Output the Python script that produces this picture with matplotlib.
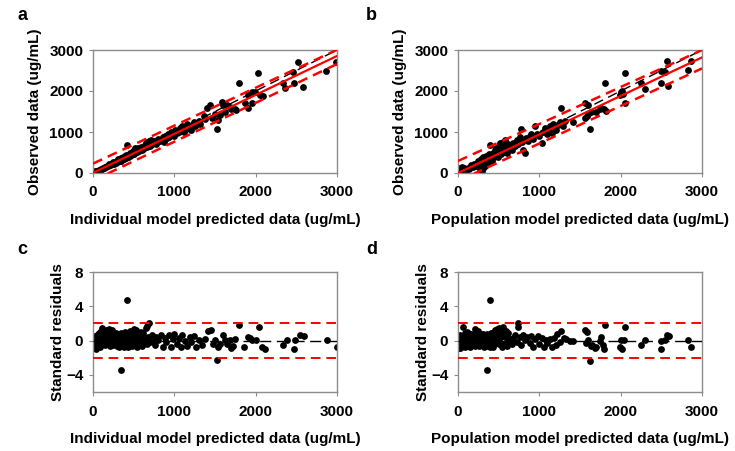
import matplotlib
matplotlib.use("Agg")
import matplotlib.pyplot as plt
import numpy as np

plt.rcParams['font.family'] = ['Liberation Sans', 'DejaVu Sans']
plt.rcParams['font.weight'] = 'bold'

# ---------------- data ----------------
# Panel a: individual predicted vs observed
a_pred = [5, 15, 25, 30, 40, 50, 60, 70, 80, 95,
          110, 120, 135, 150, 160, 175, 190, 200, 215, 230,
          240, 255, 270, 280, 295, 300, 310, 320, 335, 340,
          350, 360, 370, 380, 390, 400, 410, 420, 425, 440,
          450, 460, 470, 480, 490, 500, 510, 520, 530, 540,
          550, 560, 575, 590, 600, 620, 640, 650, 660, 670,
          680, 690, 700, 710, 720, 740, 750, 760, 780, 800,
          820, 840, 860, 870, 880, 900, 920, 940, 960, 980,
          1000, 1010, 1030, 1050, 1070, 1090, 1100, 1120, 1140, 1160,
          1180, 1200, 1220, 1240, 1260, 1280, 1300, 1320, 1360, 1380,
          1400, 1440, 1460, 1500, 1530, 1540, 1560, 1580, 1600, 1620,
          1650, 1680, 1700, 1740, 1760, 1800, 1870, 1900, 1906, 1955,
          1960, 1990, 2030, 2054, 2090, 2337, 2362, 2460, 2472, 2520,
          2583, 2866, 2990,
          60, 130, 210, 260, 330, 365, 430, 455, 505, 545,
          580, 610, 630, 695, 730, 790, 850, 910, 1060, 1150]
a_obs = [10, 20, 15, 40, 30, 60, 45, 80, 70, 90,
         100, 130, 110, 150, 140, 180, 170, 210, 190, 230,
         260, 220, 280, 250, 300, 270, 330, 290, 320, 360,
         300, 350, 390, 340, 410, 370, 430, 685, 400, 450,
         420, 480, 440, 520, 460, 550, 490, 600, 520, 580,
         620, 540, 600, 640, 570, 610, 680, 720, 640, 760,
         700, 780, 680, 800, 740, 720, 780, 760, 700, 820,
         780, 800, 880, 760, 900, 860, 940, 880, 1000, 960,
         900, 1040, 980, 1000, 1100, 1050, 1150, 1000, 1080, 1200,
         1120, 1050, 1180, 1250, 1150, 1200, 1260, 1200, 1400, 1320,
         1580, 1660, 1350, 1450, 1080, 1300, 1420, 1740, 1650, 1500,
         1650, 1600, 1560, 1550, 1530, 2200, 1707, 1900, 1585, 1975,
         1700, 1975, 2440, 1900, 1880, 2195, 2073, 2463, 2195, 2707,
         2098, 2488, 2707,
         40, 120, 190, 240, 300, 330, 400, 430, 470, 510,
         550, 580, 600, 660, 700, 750, 800, 860, 1000, 1090]

# Panel b: population predicted vs observed
b_pred = [5, 15, 25, 35, 45, 55, 65, 75, 85, 100,
          120, 140, 160, 180, 200, 220, 240, 260, 270, 280,
          290, 300, 310, 320, 330, 340, 350, 360, 370, 380,
          390, 398, 405, 415, 425, 440, 450, 460, 470, 480,
          490, 500, 510, 520, 530, 540, 550, 560, 570, 580,
          590, 600, 620, 640, 660, 680, 700, 720, 740, 760,
          780, 790, 800, 820, 840, 860, 880, 900, 920, 950,
          970, 1000, 1030, 1050, 1070, 1090, 1110, 1130, 1150, 1170,
          1190, 1210, 1230, 1250, 1270, 1290, 1310, 1420, 1560, 1560,
          1580, 1600, 1600, 1620, 1640, 1700, 1740, 1760, 1800, 1820,
          1810, 1990, 2000, 2020, 2030, 2050, 2050, 2250, 2300, 2490,
          2500, 2540, 2570, 2580, 2830, 2870]
b_obs = [20, 60, 130, 10, 100, 150, 40, 120, 70, 50,
         130, 90, 200, 150, 230, 170, 300, 210, 100, 330,
         60, 260, 380, 150, 300, 420, 200, 350, 250, 460,
         330, 680, 420, 300, 500, 380, 560, 440, 620, 500,
         400, 650, 550, 720, 470, 600, 760, 520, 680, 800,
         600, 480, 700, 620, 560, 740, 660, 800, 700, 880,
         1070, 760, 550, 500, 860, 780, 900, 950, 820, 1150,
         960, 900, 720, 1000, 1100, 950, 1050, 1150, 980, 1200,
         1100, 1050, 1180, 1240, 1580, 1150, 1260, 1250, 1700, 1350,
         1400, 1650, 1450, 1080, 1500, 1500, 1550, 1580, 1550, 1520,
         2200, 1900, 1970, 1990, 1930, 2440, 1700, 2200, 2060, 2190,
         2490, 2470, 2740, 2110, 2510, 2720]

# Panel c: individual predicted vs standard residuals
c_pred = [5, 10, 15, 20, 25, 30, 35, 40, 50, 60,
          70, 80, 90, 100, 110, 120, 130, 140, 150, 160,
          175, 190, 200, 210, 220, 230, 240, 250, 260, 270,
          280, 290, 300, 310, 320, 330, 340, 350, 360, 370,
          380, 390, 400, 410, 420, 430, 440, 450, 460, 470,
          480, 490, 500, 510, 520, 530, 540, 550, 560, 575,
          590, 600, 620, 640, 650, 660, 670, 680, 690, 700,
          720, 740, 760, 780, 800, 830, 860, 880, 900, 930,
          960, 980, 1000, 1030, 1060, 1080, 1100, 1130, 1160, 1190,
          1210, 1240, 1270, 1300, 1340, 1380, 1420, 1455, 1480, 1500,
          1530, 1540, 1560, 1600, 1620, 1650, 1680, 1700, 1720, 1750,
          1800, 1860, 1900, 1930, 1960, 2000, 2040, 2080, 2110, 2340,
          2380, 2475, 2480, 2540, 2590, 2880, 3000,
          20, 45, 65, 85, 105, 125, 145, 165, 185, 205,
          225, 245, 265, 285, 305, 325, 345, 365, 385, 405,
          425, 445, 465, 485, 505, 525, 545, 565, 585, 610]
c_res = [-0.3, 0.2, -0.8, 0.5, -0.5, 0.0, -1.0, 0.3, -0.6, 0.8,
         -0.2, 1.0, 0.1, -0.4, 1.5, 0.4, -0.3, 0.6, -0.5, 1.2,
         0.0, -0.4, 1.4, 0.3, -0.3, 1.2, 0.1, -0.5, 0.6, -0.2,
         0.9, -0.6, 0.2, -0.4, 0.5, 0.0, -3.4, 0.9, -0.5, 0.3,
         -0.8, 1.0, -0.2, 0.6, 4.7, -0.7, 0.4, 1.1, -0.3, 0.8,
         -0.6, 0.2, 1.4, -0.4, 0.5, 1.2, -0.7, 0.1, 0.7, -0.3,
         0.4, -0.6, 0.9, 0.2, 1.5, -0.4, 1.7, 0.4, 2.0, -0.2,
         0.6, 0.0, -0.5, 0.4, 0.1, 0.6, -0.8, 0.3, -0.2, 0.7,
         -0.7, 0.2, 0.8, -0.4, 0.3, -0.8, 0.7, 0.0, -0.6, 0.4,
         -0.2, 0.5, -0.7, 0.1, -0.5, 0.2, 1.1, 1.2, -0.4, 0.1,
         -2.3, -0.8, -0.4, 0.7, 0.1, -0.4, 0.1, -0.9, -0.6, 0.2,
         1.8, -0.8, 0.4, 0.3, 0.1, 0.1, 1.6, -0.7, -1.0, -0.5,
         0.1, -1.0, 0.1, 0.7, 0.5, 0.05, -0.75,
         -0.9, -0.2, 0.4, -0.7, 0.3, 1.0, -0.1, 0.3, 0.8, -0.6,
         0.5, -0.2, 0.2, -0.3, 0.7, -0.8, 0.4, 0.0, 0.5, -0.5,
         0.9, -0.2, 0.5, 1.0, -0.1, 0.3, 0.9, -0.5, 1.0, 0.0]

# Panel d: population predicted vs standard residuals
d_pred = [5, 10, 15, 20, 25, 30, 35, 40, 50, 60,
          70, 80, 90, 100, 110, 120, 130, 140, 150, 160,
          175, 190, 210, 220, 230, 240, 250, 260, 270, 280,
          290, 300, 310, 320, 330, 340, 357, 360, 370, 380,
          390, 398, 405, 410, 420, 430, 440, 450, 460, 470,
          480, 490, 500, 510, 520, 530, 540, 550, 560, 575,
          590, 600, 620, 640, 660, 680, 700, 720, 738, 740,
          760, 780, 800, 820, 850, 880, 900, 920, 950, 980,
          1000, 1030, 1060, 1080, 1100, 1130, 1160, 1180, 1200, 1220,
          1250, 1270, 1300, 1330, 1380, 1420, 1560, 1580, 1570, 1600,
          1620, 1630, 1650, 1680, 1700, 1740, 1760, 1780, 1800, 1810,
          1990, 2000, 2020, 2040, 2050, 2250, 2300, 2490, 2500, 2540,
          2570, 2590, 2830, 2870,
          20, 45, 65, 85, 105, 125, 145, 165, 185, 205,
          225, 245, 265, 285, 305, 325, 345, 365, 385, 415,
          425, 445, 465, 485, 505, 525, 545, 565, 585, 610]
d_res = [-0.2, 0.3, -0.9, 0.6, -0.4, 0.1, -0.8, 0.4, -0.5, 1.6,
         -0.3, 0.9, 0.0, -0.6, 1.0, 0.3, -0.2, 0.5, -0.7, 0.8,
         0.1, -0.5, 1.4, 0.3, -0.3, 1.1, 0.0, -0.6, 0.5, -0.2,
         0.8, -0.5, 0.2, -0.4, 0.6, 0.0, -3.45, 0.8, -0.6, 0.3,
         -0.8, 4.75, 0.9, -0.2, 0.6, -0.7, 0.4, 1.2, -0.3, 0.8,
         1.4, 0.2, 1.5, -0.4, 0.5, 1.3, -0.7, 1.6, 0.7, -0.3,
         0.4, -0.6, 0.9, 0.2, -0.4, 0.3, 0.6, -0.2, 2.0, 1.6,
         0.4, -0.5, 0.7, 0.1, 0.4, -0.3, 0.5, -0.8, 0.2, 0.5,
         -0.4, 0.3, -0.7, 0.1, -0.3, 0.2, -0.8, 0.3, -0.5, 0.8,
         -0.2, 1.1, 0.3, 0.2, -0.1, 0.0, 1.2, 1.0, -0.3, 0.1,
         -2.35, -0.6, -0.5, -0.9, -0.8, 0.0, 0.4, -0.5, -1.0, 1.8,
         -0.7, 0.1, -1.0, 0.1, 1.6, -0.5, 0.1, -1.0, 0.0, 0.05,
         0.7, 0.5, 0.05, -0.75,
         -0.9, -0.1, 0.3, -0.7, 0.4, 0.9, -0.2, 0.2, 0.7, -0.6,
         0.5, -0.3, 0.2, -0.4, 0.8, -0.8, 0.3, 0.0, 0.6, -0.5,
         0.9, -0.2, 0.5, 1.0, -0.1, 0.4, 0.9, -0.5, 1.1, 0.0]

# regression line and prediction band [slope, intercept]
a_fit = [0.95, 5]
a_upper = [0.925, 230]
a_lower = [0.948, -185]
b_fit = [0.94, 0]
b_upper = [0.902, 293]
b_lower = [0.916, -197]
res_limits = [-2, 2]

xticks = [0, 1000, 2000, 3000]
obs_yticks = [0, 1000, 2000, 3000]
res_yticks = [-4, 0, 4, 8]

# ---------------- figure ----------------
fig = plt.figure(figsize=(7.35, 4.51), dpi=100)
W, H = 735, 451

def add_ax(l, t, r, b):
    return fig.add_axes([l / W, 1 - b / H, (r - l) / W, (b - t) / H])

ax_a = add_ax(93, 50, 337, 173)
ax_b = add_ax(458, 50, 702, 173)
ax_c = add_ax(93, 272, 337, 392)
ax_d = add_ax(458, 272, 702, 392)

spine_col = '#8c8c8c'
fs = 11

def style(ax):
    for s in ax.spines.values():
        s.set_color(spine_col)
        s.set_linewidth(1.0)
    ax.tick_params(axis='both', which='both', direction='out', length=3,
                   color=spine_col, labelsize=fs)
    ax.tick_params(axis='x', pad=6)
    ax.tick_params(axis='y', pad=4)
    for lab in ax.get_xticklabels() + ax.get_yticklabels():
        lab.set_fontweight('bold')

xs = np.array([0, 3000])

def obs_panel(ax, px, py, fit, up, lo, xlabel):
    ax.scatter(px, py, s=24, color='black', zorder=2, linewidths=0)
    ax.plot(xs, xs, color='black', lw=1.0, ls=(0, (7, 4)), zorder=3)
    ax.plot(xs, fit[0] * xs + fit[1], color='red', lw=1.6, zorder=4)
    ax.plot(xs, up[0] * xs + up[1], color='red', lw=1.8, ls=(0, (4, 2.5)), zorder=4)
    ax.plot(xs, lo[0] * xs + lo[1], color='red', lw=1.8, ls=(0, (4, 2.5)), zorder=4)
    ax.set_xlim(0, 3000)
    ax.set_ylim(0, 3000)
    ax.set_xticks(xticks)
    ax.set_yticks(obs_yticks)
    ax.set_xlabel(xlabel, fontsize=fs, fontweight='bold', labelpad=10)
    ax.set_ylabel('Observed data (ug/mL)', fontsize=fs, fontweight='bold', labelpad=5)
    style(ax)

def res_panel(ax, px, py, xlabel):
    ax.scatter(px, py, s=24, color='black', zorder=2, linewidths=0)
    ax.plot(xs, [0, 0], color='black', lw=1.0, ls=(0, (8, 4)), zorder=3)
    for v in res_limits:
        ax.plot(xs, [v, v], color='red', lw=1.4, ls=(0, (5, 3)), zorder=3)
    ax.set_xlim(0, 3000)
    ax.set_ylim(-6, 8)
    ax.set_xticks(xticks)
    ax.set_yticks(res_yticks)
    ax.set_xlabel(xlabel, fontsize=fs, fontweight='bold', labelpad=10)
    ax.set_ylabel('Standard residuals', fontsize=fs, fontweight='bold', labelpad=1)
    style(ax)

obs_panel(ax_a, a_pred, a_obs, a_fit, a_upper, a_lower,
          'Individual model predicted data (ug/mL)')
obs_panel(ax_b, b_pred, b_obs, b_fit, b_upper, b_lower,
          'Population model predicted data (ug/mL)')
res_panel(ax_c, c_pred, c_res, 'Individual model predicted data (ug/mL)')
res_panel(ax_d, d_pred, d_res, 'Population model predicted data (ug/mL)')

for lab, x, y in [('a', 17, 15), ('b', 366, 15), ('c', 17, 250), ('d', 366, 250)]:
    fig.text(x / W, 1 - y / H, lab, fontsize=13, fontweight='bold',
             ha='left', va='center')

fig.savefig('out.png', dpi=100, facecolor='white')
